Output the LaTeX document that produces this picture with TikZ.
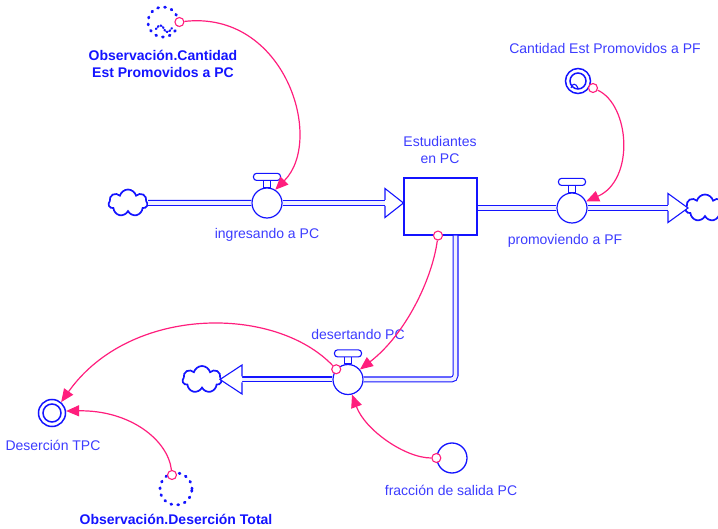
\documentclass[tikz,border=0pt]{standalone}
\usepackage{fontspec}
\setmainfont{Liberation Sans}
\usetikzlibrary{shapes.symbols,arrows.meta,calc}
\definecolor{vblue}{RGB}{20,20,255}
\definecolor{tblue}{RGB}{60,60,255}
\definecolor{lpink}{RGB}{255,30,125}
\newcommand\vhandle[1]{%
  \draw[vblue,line width=1.1pt,fill=white] ($(#1.north)+(-3.5,0)$) rectangle ($(#1.north)+(3.5,-7)$);
  \draw[vblue,line width=1.1pt,fill=white,rounded corners=3pt] ($(#1.north)+(-13.5,-7)$) rectangle ($(#1.north)+(13.5,-14)$);}
\begin{document}
\begin{tikzpicture}[x=1pt,y=-1pt,
  lab/.style={text=tblue,font=\fontsize{14}{17}\selectfont,align=center,inner sep=0},
  blab/.style={text=vblue,font=\bfseries\fontsize{14}{17.5}\selectfont,align=center,inner sep=0},
  valve/.style={circle,draw=vblue,line width=1.2pt,fill=white,minimum size=30pt,inner sep=0},
  stockbox/.style={draw=vblue,line width=1.1pt,fill=white,minimum width=73pt,minimum height=57pt,inner sep=0},
  pipe/.style={draw=vblue,line width=1.1pt,double=blue!6,double distance=3.8pt},
  arrowhd/.style={vblue,line width=1.1pt},
  cloudn/.style={cloud,cloud puffs=7,aspect=1.5,draw=vblue,line width=1.7pt,fill=white,minimum width=39pt,minimum height=27pt,inner sep=0},
  link/.style={draw=lpink,line width=1.2pt,-{Triangle[length=13pt,width=11pt]}},
  pdot/.style={circle,draw=lpink,fill=white,line width=1.1pt,minimum size=9pt,inner sep=0},
  dotc/.style={circle,draw=vblue,line width=2.8pt,dash pattern=on 1pt off 6pt,line cap=round,minimum size=30pt,inner sep=0},
  auxc/.style={circle,draw=vblue,line width=1.3pt,fill=white,minimum size=30pt,inner sep=0},
  dblc/.style={circle,draw=vblue,line width=1.5pt,fill=white,inner sep=0},
]
\useasboundingbox (0,0) rectangle (718,529);

% ---- stock and flows ----
\node[stockbox] (stock) at (440.5,206.5) {};
\node[lab] (lstock) at (440,149.5) {Estudiantes\\en PC};

\node[cloudn] (c1) at (128,203) {};
\node[valve] (v1) at (267,203) {};
\coordinate (ab1) at (385,203);
\coordinate (t1) at (stock.west |- v1);
\draw[pipe] (c1.east) -- (v1.west);
\draw[pipe] (v1.east) -- (ab1);
\fill[white] ($(ab1)+(0,-14.5)$) -- (t1) -- ($(ab1)+(0,14.5)$) -- cycle;
\draw[arrowhd] ($(ab1)+(0,-3)$) -- ($(ab1)+(0,-14.5)$) -- (t1) -- ($(ab1)+(0,14.5)$) -- ($(ab1)+(0,3)$);
\vhandle{v1}
\node[lab] (lv1) at (267,235) {ingresando a PC};

\node[valve] (v2) at (572,208) {};
\node[cloudn] (c2) at (705,208) {};
\coordinate (ab2) at (668,208);
\coordinate (t2) at (688,208);
\draw[pipe] (stock.east |- v2) -- (v2.west);
\draw[pipe] (v2.east) -- (ab2);
\fill[white] ($(ab2)+(0,-14.5)$) -- (t2) -- ($(ab2)+(0,14.5)$) -- cycle;
\draw[arrowhd] ($(ab2)+(0,-3)$) -- ($(ab2)+(0,-14.5)$) -- (t2) -- ($(ab2)+(0,14.5)$) -- ($(ab2)+(0,3)$);
\vhandle{v2}
\node[lab] (lv2) at (565,241) {promoviendo a PF};

\node[valve] (v3) at (348,379.5) {};
\node[cloudn] (c3) at (202,379.5) {};
\coordinate (d0) at ($(stock.south)+(15,0)$);
\coordinate (dc) at (455.5,379.5);
\coordinate (ab3) at (242,379.5);
\coordinate (t3) at (220,379.5);
\draw[pipe,rounded corners=4pt] (d0) -- (dc) -- (v3.east);
\draw[pipe] (v3.west) -- (ab3);
\fill[white] ($(ab3)+(0,-14.5)$) -- (t3) -- ($(ab3)+(0,14.5)$) -- cycle;
\draw[arrowhd] ($(ab3)+(0,-3)$) -- ($(ab3)+(0,-14.5)$) -- (t3) -- ($(ab3)+(0,14.5)$) -- ($(ab3)+(0,3)$);
\vhandle{v3}
\node[lab] (lv3) at (358,334) {desertando PC};

% ---- auxiliaries ----
\node[dotc] (o1) at (163,22) {};
\draw[vblue,line width=2.2pt,dash pattern=on 0.8pt off 2.2pt,line cap=round]
  (156,29) .. controls (159,24) and (163,25) .. (164,29) .. controls (165,33) and (169,33) .. (172,28);
\node[blab] (lo1) at (163,64) {Observación.Cantidad\\Est Promovidos a PC};

\node[dblc,minimum size=25pt] (cp) at (578,81) {};
\draw[vblue,line width=1.5pt] (cp) circle (8);
\draw[vblue,line width=1.1pt] (571,88) .. controls (572,83) and (576,83) .. (578,88);
\node[lab] (lcp) at (605,48) {Cantidad Est Promovidos a PF};

\node[dblc,minimum size=27pt] (dt) at (52,413) {};
\draw[vblue,line width=1.5pt] (dt) circle (9);
\node[lab] (ldt) at (53,445) {Deserción TPC};

\node[dotc,minimum size=32pt] (o2) at (176,489) {};
\node[blab] (lo2) at (176,519) {Observación.Deserción Total};

\node[auxc] (fr) at (452,458) {};
\node[lab] (lfr) at (451,490) {fracción de salida PC};

% ---- pink origin dots ----
\node[pdot] (p1) at (o1.east) {};
\node[pdot] (p2) at (593,88) {};
\node[pdot] (p3) at ($(stock.south)+(-2.5,0)$) {};
\node[pdot] (p4) at (v3.139) {};
\node[pdot] (p5) at (172,475) {};
\node[pdot] (p6) at (fr.west) {};

% ---- links ----
\draw[link] (p1) .. controls (285,10) and (325,140) .. (v1.58);
\draw[link] (p2) .. controls (630,105) and (635,180) .. (v2.25);
\draw[link] (p3) .. controls (432,280) and (405,335) .. (v3.40);
\draw[link] (p4) .. controls (275,305) and (130,305) .. (dt.50);
\draw[link] (p5) .. controls (168,440) and (130,410) .. (dt.8);
\draw[link] (p6) .. controls (405,458) and (365,430) .. (v3.-75);
\end{tikzpicture}
\end{document}
